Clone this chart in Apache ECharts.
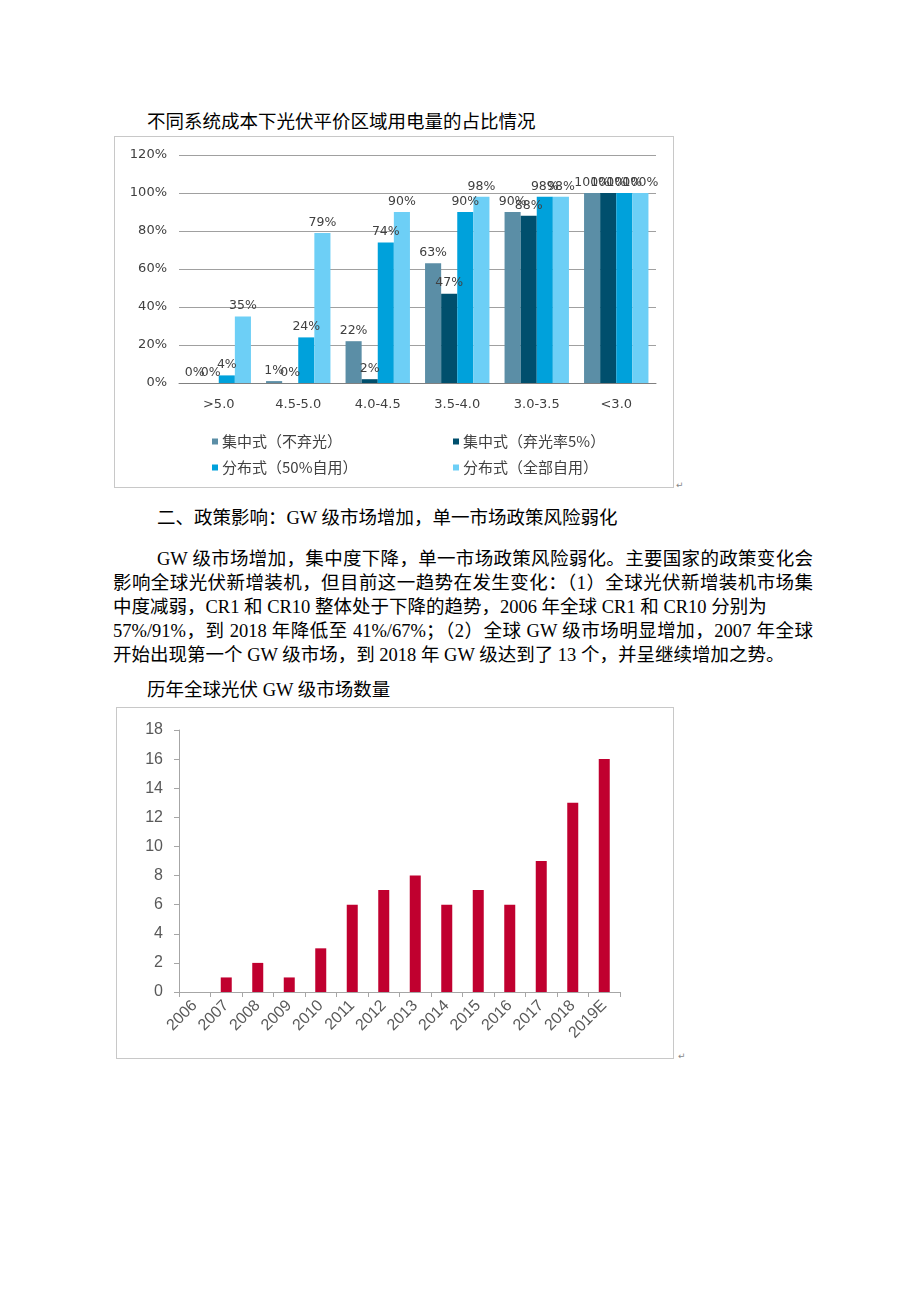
<!DOCTYPE html>
<html>
<head>
<meta charset="utf-8">
<script src="https://cdn.jsdelivr.net/npm/echarts@6/dist/echarts.min.js"></script>
<style>
  html, body { margin: 0; padding: 0; background: #fff; }
  #page { position: relative; width: 920px; height: 1302px; overflow: hidden;
          font-family: "Liberation Serif", "Noto Sans CJK SC", serif; color: #000; }
  .t { position: absolute; white-space: nowrap; font-size: 18.5px; line-height: 24px; }
  .just { text-align: justify; text-align-last: justify; }
  .box { position: absolute; border: 1.5px solid #c8c8c8; box-sizing: border-box; }
  .pm { position: absolute; font-size: 9px; color: #888; font-family: "DejaVu Sans"; }
</style>
</head>
<body>
<div id="page">
  <div class="t" style="left:147px; top:110px;">不同系统成本下光伏平价区域用电量的占比情况</div>
  <div class="box" id="c1" style="left:114px; top:136px; width:560px; height:352px;"></div>
  <div class="pm" style="left:676px; top:480px;">↵</div>

  <div class="t" style="left:157px; top:506px;">二、政策影响：GW 级市场增加，单一市场政策风险弱化</div>

  <div class="t just" style="left:157px; top:547px; width:656px;">GW 级市场增加，集中度下降，单一市场政策风险弱化。主要国家的政策变化会</div>
  <div class="t just" style="left:113px; top:571px; width:700px;">影响全球光伏新增装机，但目前这一趋势在发生变化：（1）全球光伏新增装机市场集</div>
  <div class="t" style="left:113px; top:595px;">中度减弱，CR1 和 CR10 整体处于下降的趋势，2006 年全球 CR1 和 CR10 分别为</div>
  <div class="t just" style="left:113px; top:619px; width:700px;">57%/91%，到 2018 年降低至 41%/67%；（2）全球 GW 级市场明显增加，2007 年全球</div>
  <div class="t" style="left:113px; top:643px;">开始出现第一个 GW 级市场，到 2018 年 GW 级达到了 13 个，并呈继续增加之势。</div>

  <div class="t" style="left:147px; top:678px;">历年全球光伏 GW 级市场数量</div>
  <div class="box" id="c2" style="left:116px; top:707px; width:558px; height:352px;"></div>
  <div class="pm" style="left:678px; top:1051px;">↵</div>
</div>
<script>
// ---- Chart 1 data ----
var costCategories = ['>5.0', '4.5-5.0', '4.0-4.5', '3.5-4.0', '3.0-3.5', '<3.0'];
var seriesNames = ['集中式（不弃光）', '集中式（弃光率5%）', '分布式（50%自用）', '分布式（全部自用）'];
var centralNoCurtail = [0, 1, 22, 63, 90, 100];
var centralCurtail5 = [0, 0, 2, 47, 88, 100];
var distributed50 = [4, 24, 74, 90, 98, 100];
var distributedAll = [35, 79, 90, 98, 98, 100];
var pctTicks = [0, 20, 40, 60, 80, 100, 120];

// ---- Chart 2 data ----
var years = ['2006', '2007', '2008', '2009', '2010', '2011', '2012', '2013', '2014', '2015', '2016', '2017', '2018', '2019E'];
var gwMarkets = [0, 1, 2, 1, 3, 6, 7, 8, 6, 7, 6, 9, 13, 16];
var countTicks = [0, 2, 4, 6, 8, 10, 12, 14, 16, 18];

var colors1 = ['#5b8ea6', '#004f6d', '#00a1db', '#6dcff6'];
var vals1 = [centralNoCurtail, centralCurtail5, distributed50, distributedAll];

var c1 = echarts.init(document.getElementById('c1'), null, { renderer: 'canvas' });
var legendPos = [[92, 292], [333, 292], [92, 318], [333, 318]];
c1.setOption({
  animation: false,
  textStyle: { fontFamily: 'Liberation Sans, Noto Sans CJK SC' },
  grid: { left: 64, right: 17, top: 18, bottom: 104 },
  legend: seriesNames.map(function (n, i) {
    return {
      data: [n], left: legendPos[i][0], top: legendPos[i][1],
      itemWidth: 6, itemHeight: 6, icon: 'rect', itemGap: 4,
      textStyle: { fontSize: 15, color: '#404040', fontFamily: 'Noto Sans CJK SC', padding: [0, 0, 0, -1] }
    };
  }),
  xAxis: {
    type: 'category', data: costCategories,
    axisLine: { lineStyle: { color: '#808080', width: 1 } },
    axisTick: { show: false },
    axisLabel: { color: '#404040', fontSize: 13, margin: 15, fontFamily: 'DejaVu Sans' }
  },
  yAxis: {
    type: 'value', min: pctTicks[0], max: pctTicks[pctTicks.length - 1], interval: 20,
    axisLine: { show: false }, axisTick: { show: false },
    axisLabel: { color: '#404040', fontSize: 13, margin: 12, fontFamily: 'DejaVu Sans', formatter: '{value}%' },
    splitLine: { lineStyle: { color: '#a0a0a0', width: 1 } }
  },
  series: seriesNames.map(function (n, i) {
    return {
      name: n, type: 'bar', data: vals1[i],
      barGap: '0%', barCategoryGap: '19%',
      itemStyle: { color: colors1[i] },
      label: { show: true, position: 'top', distance: 4, formatter: '{c}%', color: '#404040', fontSize: 12.5, fontFamily: 'DejaVu Sans' }
    };
  })
});

var c2 = echarts.init(document.getElementById('c2'), null, { renderer: 'canvas' });
c2.setOption({
  animation: false,
  grid: { left: 62, right: 53, top: 22, bottom: 66 },
  xAxis: {
    type: 'category', data: years,
    axisLine: { lineStyle: { color: '#a6a6a6', width: 1 } },
    axisTick: { show: true, length: 5, lineStyle: { color: '#a6a6a6' } },
    axisLabel: { rotate: 45, color: '#595959', fontSize: 16, margin: 11, fontFamily: 'Liberation Sans' }
  },
  yAxis: {
    type: 'value', min: countTicks[0], max: countTicks[countTicks.length - 1], interval: 2,
    axisLine: { show: true, lineStyle: { color: '#a6a6a6', width: 1 } },
    axisTick: { show: true, length: 5, lineStyle: { color: '#a6a6a6' } },
    axisLabel: { color: '#595959', fontSize: 16, margin: 16, fontFamily: 'Liberation Sans' },
    splitLine: { show: false }
  },
  series: [{
    type: 'bar', data: gwMarkets, barWidth: 11,
    itemStyle: { color: '#c0002f' }
  }]
});
</script>
</body>
</html>
